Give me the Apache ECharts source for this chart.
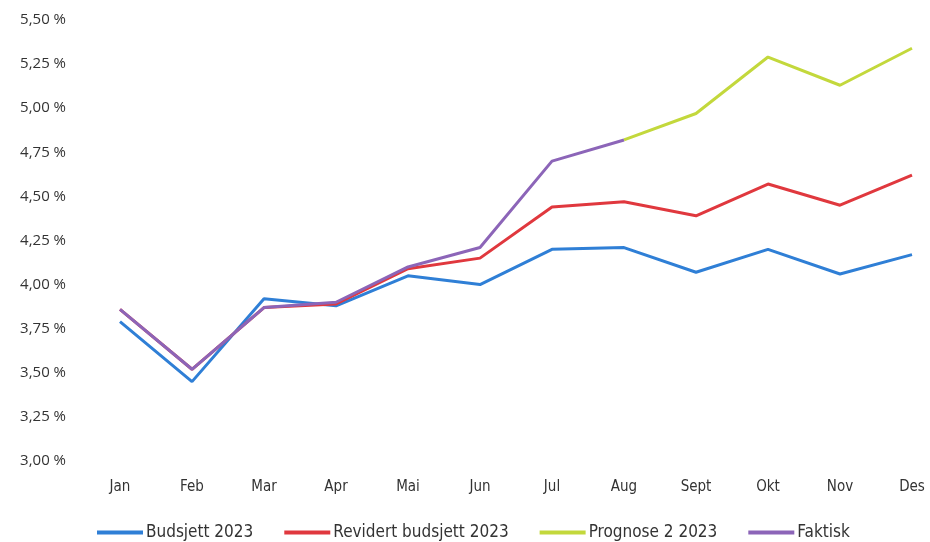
<!DOCTYPE html>
<html><head><meta charset="utf-8">
<script src="https://cdn.jsdelivr.net/npm/echarts@6/dist/echarts.min.js"></script>
<style>html,body{margin:0;padding:0;background:#fff}#c{width:930px;height:542px}</style>
</head><body><div id="c"></div>
<script>
var categories = ['Jan','Feb','Mar','Apr','Mai','Jun','Jul','Aug','Sept','Okt','Nov','Des'];
var budsjett = [3.79,3.45,3.92,3.88,4.05,4.00,4.20,4.21,4.07,4.20,4.06,4.17];
var revidert = [3.86,3.52,3.87,3.89,4.09,4.15,4.44,4.47,4.39,4.57,4.45,4.62];
var prognose = [null,null,null,null,null,null,null,4.82,4.97,5.29,5.13,5.34];
var faktisk = [3.86,3.52,3.87,3.90,4.10,4.21,4.70,4.82,null,null,null,null];
var seriesNames = ['Budsjett 2023','Revidert budsjett 2023','Prognose 2 2023','Faktisk'];
var colors = ['#2f7fd6','#e0383e','#c3d83c','#8c65b8'];

var chart = echarts.init(document.getElementById('c'));
function mk(name, data, color, z){
  return {name:name,type:'line',data:data,symbol:'none',z:z,
    lineStyle:{color:color,width:3},itemStyle:{color:color}};
}
var narrow = 'DejaVu Sans Condensed, Liberation Sans';
chart.setOption({
  animation:false,
  grid:{left:120,right:18,top:20,bottom:81},
  legend:{top:519,left:92,itemWidth:46,itemHeight:4,itemGap:31,icon:'rect',
    textStyle:{fontFamily:narrow,fontSize:17,color:'#333',padding:[0,0,0,-2]},
    data:seriesNames},
  xAxis:{type:'category',data:categories,boundaryGap:false,
    axisLine:{show:false},axisTick:{show:false},splitLine:{show:false},
    axisLabel:{margin:19,fontFamily:narrow,fontSize:15,color:'#333'}},
  yAxis:{type:'value',min:3,max:5.5,interval:0.25,
    axisLine:{show:false},axisTick:{show:false},splitLine:{show:false},
    axisLabel:{margin:54,fontFamily:'Open Sans',fontSize:15,color:'#333',
      formatter:function(v){return v.toFixed(2).replace('.',',')+' %';}}},
  series:[
    mk(seriesNames[0],budsjett,colors[0],2),
    mk(seriesNames[1],revidert,colors[1],3),
    mk(seriesNames[2],prognose,colors[2],4),
    mk(seriesNames[3],faktisk,colors[3],5)
  ]
});
</script></body></html>
